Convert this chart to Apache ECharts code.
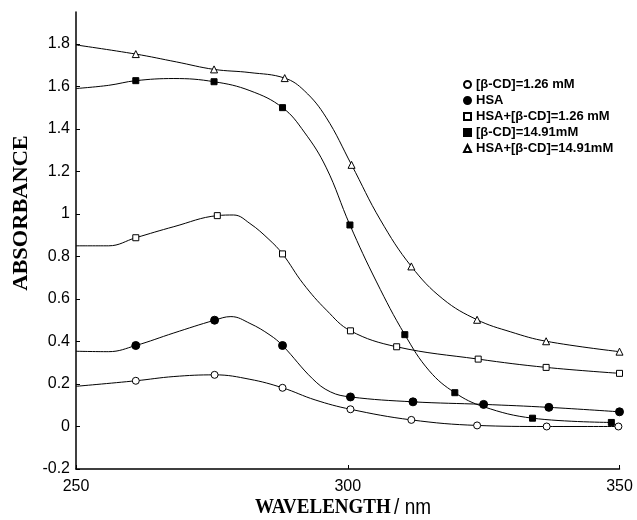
<!DOCTYPE html>
<html>
<head>
<meta charset="utf-8">
<script src="https://cdn.jsdelivr.net/npm/echarts@6/dist/echarts.min.js"></script>
<style>
  html, body { margin: 0; padding: 0; background: #fff; }
  #chart { width: 637px; height: 520px; }
</style>
</head>
<body>
<div id="chart"></div>
<script>
// wavelength (nm) / absorbance; mk = 1 where a marker is drawn
var wlCd126  = [250, 261, 268, 275.5, 282, 288, 294, 300.5, 311.7, 323.8, 336.6, 349.8];
var absCd126 = [0.189, 0.215, 0.235, 0.243, 0.222, 0.182, 0.125, 0.081, 0.031, 0.005, 0, 0];
var mkCd126  = [0, 1, 0, 1, 0, 1, 0, 1, 1, 1, 1, 1];

var wlHsa  = [250, 256, 261, 268, 275.5, 278.5, 282, 285.7, 288, 293.5, 296.8, 300.5, 312, 325, 337, 350];
var absHsa = [0.354, 0.352, 0.381, 0.44, 0.5, 0.517, 0.485, 0.43, 0.381, 0.225, 0.163, 0.139, 0.116, 0.104, 0.09, 0.069];
var mkHsa  = [0, 0, 1, 0, 1, 0, 0, 0, 1, 0, 0, 1, 1, 1, 1, 1];

var wlHsaCd126  = [250, 256, 261, 268, 276, 279, 282, 285.5, 288, 291.8, 296.1, 300.5, 309, 324, 336.5, 350];
var absHsaCd126 = [0.85, 0.85, 0.888, 0.94, 0.992, 0.995, 0.955, 0.88, 0.812, 0.672, 0.547, 0.45, 0.375, 0.317, 0.278, 0.25];
var mkHsaCd126  = [0, 0, 1, 0, 1, 0, 0, 0, 1, 0, 0, 1, 1, 1, 1, 1];

var wlCd1491  = [250, 256, 261, 268, 275.4, 282, 288, 292, 296, 300.4, 305.3, 310.5, 315, 319.7, 325, 334, 348.5];
var absCd1491 = [1.59, 1.605, 1.627, 1.637, 1.622, 1.58, 1.5, 1.385, 1.22, 0.948, 0.68, 0.432, 0.262, 0.159, 0.093, 0.039, 0.019];
var mkCd1491  = [0, 0, 1, 0, 1, 0, 1, 0, 0, 1, 0, 1, 0, 1, 0, 1, 1];

var wlHsaCd1491  = [250, 261, 268.5, 275.4, 282, 288.4, 292, 296, 300.7, 306, 311.7, 317.5, 323.8, 330, 336.5, 350];
var absHsaCd1491 = [1.795, 1.752, 1.715, 1.68, 1.665, 1.639, 1.58, 1.455, 1.231, 0.972, 0.753, 0.6, 0.502, 0.445, 0.401, 0.352];
var mkHsaCd1491  = [0, 1, 0, 1, 0, 1, 0, 0, 1, 0, 1, 0, 1, 0, 1, 1];

var names = ['[β-CD]=1.26 mM', 'HSA', 'HSA+[β-CD]=1.26 mM', '[β-CD]=14.91mM', 'HSA+[β-CD]=14.91mM'];
var yTicks = [-0.2, 0, 0.2, 0.4, 0.6, 0.8, 1, 1.2, 1.4, 1.6, 1.8];
var xTicks = [250, 300, 350];

var chart = echarts.init(document.getElementById('chart'));

function makeSeries(name, wl, ab, mk, symbol, size, filled) {
  return {
    name: name,
    type: 'line',
    smooth: 0.4,
    showAllSymbol: true,
    symbol: symbol,
    symbolSize: size,
    lineStyle: { color: '#000', width: 1 },
    itemStyle: { color: filled ? '#000' : '#fff', borderColor: '#000', borderWidth: 1 },
    emphasis: { disabled: true },
    data: wl.map(function (w, i) {
      return { value: [w, ab[i]], symbol: mk[i] ? symbol : 'none' };
    })
  };
}

var option = {
  animation: false,
  backgroundColor: '#fff',
  grid: { left: 76, right: 17.5, top: 12, bottom: 51, containLabel: false },
  xAxis: {
    type: 'value',
    min: 250,
    max: 350,
    interval: 50,
    axisLine: { onZero: false, lineStyle: { color: '#000', width: 1.5 } },
    axisTick: { inside: true, length: 4, lineStyle: { color: '#000' }, customValues: xTicks },
    axisLabel: { color: '#000', fontSize: 16, fontFamily: 'Liberation Sans', margin: 10, customValues: xTicks },
    splitLine: { show: false }
  },
  yAxis: {
    type: 'value',
    min: -0.2,
    max: 1.95,
    interval: 0.2,
    axisLine: { show: true, onZero: false, lineStyle: { color: '#000', width: 1.5 } },
    axisTick: { show: true, inside: true, length: 4, lineStyle: { color: '#000' }, customValues: yTicks },
    axisLabel: { color: '#000', fontSize: 16, fontFamily: 'Liberation Sans', margin: 6, customValues: yTicks },
    splitLine: { show: false }
  },
  legend: {
    orient: 'vertical',
    left: 463,
    top: 78,
    padding: 0,
    itemGap: 3,
    itemWidth: 7,
    itemHeight: 7,
    selectedMode: false,
    textStyle: { color: '#000', fontSize: 13, fontWeight: 'bold', fontFamily: 'Liberation Sans', lineHeight: 13 },
    data: [
      { name: names[0], icon: 'circle' },
      { name: names[1], icon: 'circle' },
      { name: names[2], icon: 'rect' },
      { name: names[3], icon: 'rect' },
      { name: names[4], icon: 'triangle' }
    ]
  },
  graphic: [
    {
      type: 'text',
      x: 22,
      y: 213,
      rotation: Math.PI / 2,
      scaleX: 1.12,
      style: {
        text: 'ABSORBANCE',
        font: 'bold 20px "Liberation Serif"',
        fill: '#000',
        align: 'center',
        verticalAlign: 'middle'
      }
    },
    {
      type: 'text',
      x: 343,
      y: 508,
      scaleY: 1.12,
      style: {
        text: '{a|WAVELENGTH} {b|/ nm}',
        fill: '#000',
        align: 'center',
        verticalAlign: 'middle',
        rich: {
          a: { font: 'bold 19px "Liberation Serif"', fill: '#000' },
          b: { font: '19px "Liberation Sans"', fill: '#000' }
        }
      }
    }
  ],
  series: [
    makeSeries(names[0], wlCd126, absCd126, mkCd126, 'circle', 7, false),
    makeSeries(names[1], wlHsa, absHsa, mkHsa, 'circle', 8, true),
    makeSeries(names[2], wlHsaCd126, absHsaCd126, mkHsaCd126, 'rect', 6, false),
    makeSeries(names[3], wlCd1491, absCd1491, mkCd1491, 'rect', 6, true),
    makeSeries(names[4], wlHsaCd1491, absHsaCd1491, mkHsaCd1491, 'triangle', 7, false)
  ]
};

chart.setOption(option);
</script>
</body>
</html>
